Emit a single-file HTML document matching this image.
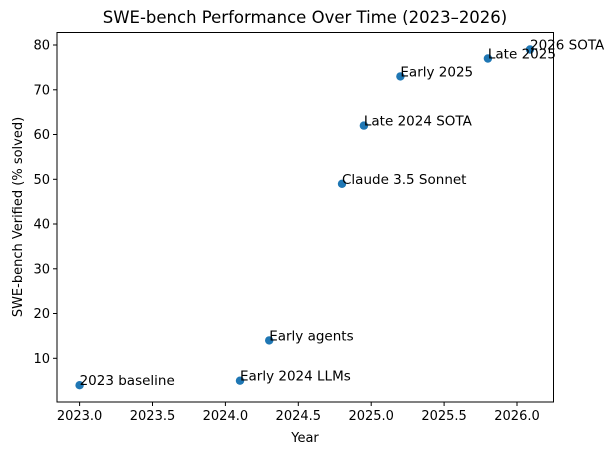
<!DOCTYPE html>
<html><head><meta charset="utf-8"><style>
html,body{margin:0;padding:0;background:#fff;}
svg{display:block;font-family:"DejaVu Sans","Liberation Sans",sans-serif;}
</style></head><body>
<svg width="616" height="455" viewBox="0 0 616 455" xmlns="http://www.w3.org/2000/svg">
<rect width="616" height="455" fill="#fff"/>
<text x="305" y="23" font-size="16.5" text-anchor="middle">SWE-bench Performance Over Time (2023–2026)</text>
<rect x="57" y="32.5" width="496.5" height="369.5" fill="none" stroke="#000" stroke-width="1"/>
<g stroke="#000" stroke-width="1">
<line x1="79.6" y1="402" x2="79.6" y2="406"/><line x1="152.5" y1="402" x2="152.5" y2="406"/><line x1="225.4" y1="402" x2="225.4" y2="406"/><line x1="298.3" y1="402" x2="298.3" y2="406"/><line x1="371.2" y1="402" x2="371.2" y2="406"/><line x1="444.1" y1="402" x2="444.1" y2="406"/><line x1="517" y1="402" x2="517" y2="406"/>
<line x1="53" y1="358.3" x2="57" y2="358.3"/><line x1="53" y1="313.5" x2="57" y2="313.5"/><line x1="53" y1="268.8" x2="57" y2="268.8"/><line x1="53" y1="224" x2="57" y2="224"/><line x1="53" y1="179.3" x2="57" y2="179.3"/><line x1="53" y1="134.5" x2="57" y2="134.5"/><line x1="53" y1="89.8" x2="57" y2="89.8"/><line x1="53" y1="45" x2="57" y2="45"/>
</g>
<g font-size="13" text-anchor="middle">
<text x="79.6" y="420">2023.0</text><text x="152.5" y="420">2023.5</text><text x="225.4" y="420">2024.0</text><text x="298.3" y="420">2024.5</text><text x="371.2" y="420">2025.0</text><text x="444.1" y="420">2025.5</text><text x="517" y="420">2026.0</text>
<text x="305" y="442">Year</text>
</g>
<g font-size="13" text-anchor="end">
<text x="50" y="363">10</text><text x="50" y="318">20</text><text x="50" y="273.5">30</text><text x="50" y="228.7">40</text><text x="50" y="184">50</text><text x="50" y="139.2">60</text><text x="50" y="94.5">70</text><text x="50" y="49.7">80</text>
</g>
<text transform="translate(22,217) rotate(-90)" font-size="13" text-anchor="middle">SWE-bench Verified (% solved)</text>
<g fill="#1f77b4">
<circle cx="79.6" cy="385.2" r="4.2"/><circle cx="240" cy="380.7" r="4.2"/><circle cx="269.2" cy="340.4" r="4.2"/><circle cx="342" cy="183.8" r="4.2"/><circle cx="363.9" cy="125.6" r="4.2"/><circle cx="400.4" cy="76.4" r="4.2"/><circle cx="487.9" cy="58.5" r="4.2"/><circle cx="530" cy="49.5" r="4.2"/>
</g>
<g font-size="13.5">
<text x="79.6" y="385.2">2023 baseline</text><text x="240" y="380.7">Early 2024 LLMs</text><text x="269.2" y="340.4">Early agents</text><text x="342" y="183.8">Claude 3.5 Sonnet</text><text x="363.9" y="125.6">Late 2024 SOTA</text><text x="400.4" y="76.4">Early 2025</text><text x="487.9" y="58.5">Late 2025</text><text x="530" y="49.5">2026 SOTA</text>
</g>
</svg>
</body></html>
